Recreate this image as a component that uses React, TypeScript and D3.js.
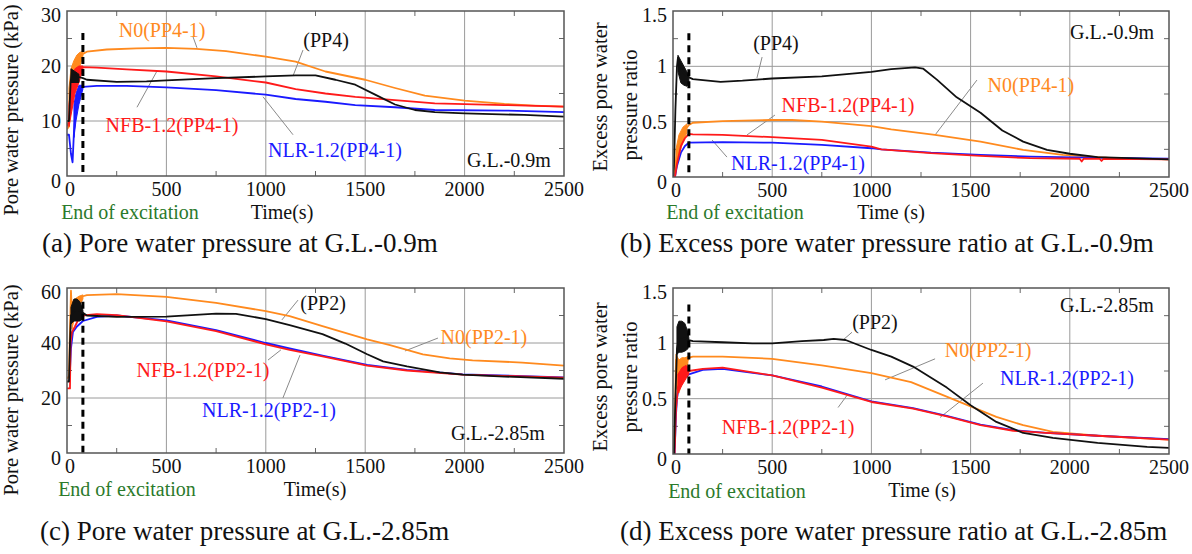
import React from 'react';
import * as d3 from 'd3';

type Pt = [number, number];
type Band = [number, number, number];

// ---------- Panel (a): pore water pressure at G.L.-0.9m ----------
const timeTicks = [0, 500, 1000, 1500, 2000, 2500];

const aN0: Pt[] = [[0,8.5],[10,9],[20,14],[40,19],[60,21.5],[80,22.2],[100,22.6],[200,23],[350,23.2],[500,23.3],[650,23.1],[800,22.7],[1000,21.7],[1150,20.8],[1300,19.0],[1500,17.5],[1650,16],[1800,14.6],[2000,13.7],[2200,13.1],[2350,12.8],[2500,12.6]];
const aN0Band: Band[] = [[10,9,16],[20,13,19.5],[35,16,21],[50,18,22],[65,20,22.5],[80,21.8,22.6]];
const aNFB: Pt[] = [[0,9],[10,10],[20,14],[40,18],[60,19.5],[80,19.8],[150,19.7],[300,19.4],[500,19],[750,18.1],[1000,17],[1150,15.8],[1300,15],[1450,14.4],[1650,13.8],[1850,13.2],[2200,12.9],[2500,12.6]];
const aNFBBand: Band[] = [[10,9,13],[25,12,18],[40,15,19.5],[60,17,20],[80,19.5,20]];
const aNLR: Pt[] = [[0,7.5],[10,7.5],[20,4],[28,2.5],[35,8],[45,13],[60,15.5],[80,16.2],[150,16.4],[300,16.4],[500,16.1],[750,15.6],[1000,14.8],[1150,14],[1300,13.5],[1450,12.9],[1650,12.5],[1850,12.0],[2200,11.9],[2500,11.6]];
const aNLRBand: Band[] = [[35,7,13],[45,10,15],[60,13,16.5],[80,15.8,16.5]];
const aPP: Pt[] = [[0,10],[10,10],[18,17],[25,19],[40,18.5],[60,18],[80,17.8],[100,17.5],[250,17.1],[400,17.2],[500,17.4],[750,17.8],[1000,18.1],[1150,18.3],[1250,18.3],[1350,17.5],[1450,16.6],[1550,14.8],[1650,13],[1750,12.0],[1850,11.6],[2000,11.4],[2300,11.1],[2500,10.8]];
const aPPBand: Band[] = [[20,17,19.5],[40,17,19],[60,17,18.5]];
const aYTicks = [0, 10, 20, 30];

// ---------- Panel (b): excess pore water pressure ratio at G.L.-0.9m ----------
const bPP: Pt[] = [[0,0],[5,0.1],[12,0.6],[20,1.0],[25,1.08],[35,1.0],[50,0.95],[65,0.92],[80,0.9],[100,0.885],[240,0.86],[350,0.87],[500,0.89],[750,0.91],[1000,0.95],[1100,0.975],[1220,0.99],[1260,0.98],[1330,0.88],[1430,0.72],[1550,0.58],[1660,0.42],[1765,0.32],[1885,0.245],[2000,0.21],[2140,0.18],[2300,0.17],[2500,0.16]];
const bPPBand: Band[] = [[25,0.95,1.1],[40,0.85,1.05],[55,0.83,1.0],[70,0.82,0.95],[80,0.85,0.92]];
const bN0: Pt[] = [[0,0],[5,0],[15,0.15],[30,0.3],[50,0.4],[80,0.47],[100,0.49],[250,0.505],[500,0.515],[600,0.515],[750,0.5],[1000,0.46],[1100,0.43],[1320,0.38],[1550,0.32],[1765,0.245],[1965,0.2],[2220,0.17],[2500,0.16]];
const bN0Band: Band[] = [[15,0.05,0.25],[30,0.2,0.38],[50,0.32,0.45],[70,0.4,0.48]];
const bNFB: Pt[] = [[0,0],[10,0],[20,0.12],[40,0.28],[60,0.35],[80,0.39],[100,0.385],[250,0.38],[500,0.36],[750,0.335],[1000,0.275],[1050,0.25],[1300,0.215],[1550,0.19],[1800,0.17],[2050,0.165],[2060,0.14],[2070,0.165],[2150,0.165],[2160,0.145],[2170,0.165],[2500,0.16]];
const bNLR: Pt[] = [[0,0],[10,0],[20,0.1],[40,0.22],[60,0.28],[80,0.31],[250,0.315],[500,0.31],[750,0.29],[1000,0.26],[1050,0.25],[1300,0.22],[1550,0.2],[1800,0.185],[2100,0.175],[2500,0.165]];
const ratioTicks = [0, 0.5, 1, 1.5];

// ---------- Panel (c): pore water pressure at G.L.-2.85m ----------
const cN0: Pt[] = [[0,27],[10,28],[15,45],[20,59],[25,50],[40,54],[60,56],[80,57],[100,57.4],[250,57.8],[500,56.8],[750,54.6],[1000,51.6],[1120,49.8],[1285,46.1],[1510,41.3],[1625,39.2],[1790,35.9],[1925,34.4],[2040,33.7],[2290,32.9],[2500,31.8]];
const cN0Band: Band[] = [[25,45,55],[40,50,56],[60,53,57],[80,56,57.5]];
const cPP: Pt[] = [[0,26],[10,26],[15,40],[20,50],[40,52],[60,52],[80,51],[100,50],[250,49.5],[500,49.6],[750,50.7],[850,50.6],[1000,48.7],[1120,46.5],[1285,43.2],[1400,39.8],[1510,35.9],[1590,33.3],[1710,31.5],[1875,29.3],[1990,28.5],[2200,27.8],[2500,27]];
const cPPBand: Band[] = [[20,47,53],[35,48,56],[50,48,56],[65,48,55],[80,49,52]];
const cNFB: Pt[] = [[0,23.5],[15,23.5],[18,40],[25,44],[40,46],[60,49],[80,50],[150,50.5],[250,50.1],[500,47.9],[750,44.3],[1000,39.5],[1120,37.5],[1285,35.1],[1510,31.8],[1710,30],[1990,28.5],[2500,27.4]];
const cNLR: Pt[] = [[15,30],[20,38],[30,44],[50,46],[80,48],[150,49.5],[250,50],[500,48.2],[750,44.7],[1000,40],[1120,38],[1285,35.4],[1510,32],[1710,30.2],[1990,28.6],[2500,27.5]];
const cYTicks = [0, 20, 40, 60];

// ---------- Panel (d): excess pore water pressure ratio at G.L.-2.85m ----------
const dPP: Pt[] = [[0,0],[5,0],[12,0.5],[20,0.95],[30,1.05],[50,1.05],[80,1.03],[100,1.02],[250,1.01],[400,1.0],[500,1.0],[650,1.02],[760,1.03],[810,1.04],[870,1.03],[1000,0.94],[1100,0.88],[1210,0.79],[1380,0.6],[1500,0.44],[1630,0.29],[1765,0.19],[1915,0.145],[2140,0.1],[2390,0.065],[2500,0.055]];
const dPPBand: Band[] = [[20,0.9,1.15],[30,0.92,1.2],[45,0.92,1.2],[60,0.93,1.18],[75,0.95,1.1],[80,1.0,1.05]];
const dN0: Pt[] = [[0,0],[5,0],[10,0.3],[15,0.85],[20,0.7],[30,0.6],[45,0.7],[60,0.8],[80,0.87],[100,0.88],[250,0.88],[500,0.86],[750,0.8],[1000,0.73],[1200,0.65],[1500,0.43],[1630,0.335],[1765,0.26],[1915,0.2],[2140,0.165],[2500,0.13]];
const dN0Band: Band[] = [[15,0.6,0.9],[30,0.55,0.85],[45,0.65,0.87],[60,0.72,0.87],[75,0.82,0.88]];
const dNFB: Pt[] = [[0,0],[8,0],[15,0.4],[25,0.6],[40,0.68],[60,0.72],[80,0.75],[150,0.77],[250,0.78],[500,0.71],[750,0.6],[1000,0.47],[1210,0.41],[1380,0.34],[1550,0.26],[1715,0.21],[1880,0.19],[2140,0.165],[2500,0.13]];
const dNFBBand: Band[] = [[25,0.55,0.72],[45,0.62,0.78],[65,0.68,0.8],[80,0.72,0.78]];
const dNLR: Pt[] = [[0,0],[8,0],[15,0.35],[20,0.5],[30,0.62],[50,0.68],[80,0.72],[150,0.76],[250,0.77],[500,0.71],[750,0.61],[1000,0.475],[1210,0.415],[1380,0.345],[1550,0.265],[1715,0.215],[1880,0.19],[2140,0.165],[2500,0.135]];

const endOfExcitation = 80;

const ORANGE = '#ff8a1e';
const RED = '#ff1a1a';
const BLUE = '#1a1aff';
const BLACK = '#111111';
const GREEN = '#2b7a2b';
const FONT = "'Liberation Serif', 'Times New Roman', Times, serif";

type Series = { data: Pt[]; color: string; band?: Band[] };
type Label = { text: string; color: string; t: number; v: number };
type Cfg = {
  x0: number; x1: number; y0: number; y1: number;
  yMax: number; yTicks: number[]; yMinor: number; yFmt: (v: number) => string;
  yLabel: string[]; yLabelX: number[]; yLabelCY: number[];
  timeText: string; timeX: number; timeY: number;
  endX: number; endY: number;
  series: Series[];
  labels: Label[];
  leaders: [number, number, number, number][];
  dashTop: number;
  caption: string; capX: number; capY: number;
};

const fmtRatio = (v: number) => String(v);

const panels: Cfg[] = [
  {
    x0: 67, x1: 564, y0: 11, y1: 176, yMax: 30, yTicks: aYTicks, yMinor: 5, yFmt: (v) => String(v),
    yLabel: ['Pore water pressure (kPa)'], yLabelX: [18], yLabelCY: [110],
    timeText: 'Time(s)', timeX: 282, timeY: 219, endX: 130, endY: 219,
    series: [
      { data: aN0, color: ORANGE, band: aN0Band },
      { data: aNLR, color: BLUE, band: aNLRBand },
      { data: aNFB, color: RED, band: aNFBBand },
      { data: aPP, color: BLACK, band: aPPBand },
    ],
    labels: [
      { text: 'N0(PP4-1)', color: ORANGE, t: 478, v: 26.5 },
      { text: '(PP4)', color: BLACK, t: 1303, v: 24.7 },
      { text: 'NFB-1.2(PP4-1)', color: RED, t: 528, v: 9.3 },
      { text: 'NLR-1.2(PP4-1)', color: BLUE, t: 1348, v: 4.7 },
      { text: 'G.L.-0.9m', color: BLACK, t: 2223, v: 2.9 },
    ],
    leaders: [[634, 25.3, 654, 23.3], [1187, 22.9, 1137, 18.2], [352, 12.5, 453, 19.1], [986, 14.4, 1137, 7.5]],
    dashTop: 26,
    caption: '(a) Pore water pressure at G.L.-0.9m', capX: 42, capY: 252,
  },
  {
    x0: 673, x1: 1169, y0: 11, y1: 177, yMax: 1.5, yTicks: ratioTicks, yMinor: 0.25, yFmt: fmtRatio,
    yLabel: ['Excess pore water', 'pressure ratio'], yLabelX: [607, 637], yLabelCY: [97, 105],
    timeText: 'Time (s)', timeX: 891, timeY: 219, endX: 735, endY: 219,
    series: [
      { data: bN0, color: ORANGE, band: bN0Band },
      { data: bNLR, color: BLUE },
      { data: bNFB, color: RED },
      { data: bPP, color: BLACK, band: bPPBand },
    ],
    labels: [
      { text: '(PP4)', color: BLACK, t: 519, v: 1.21 },
      { text: 'NFB-1.2(PP4-1)', color: RED, t: 882, v: 0.65 },
      { text: 'NLR-1.2(PP4-1)', color: BLUE, t: 630, v: 0.127 },
      { text: 'N0(PP4-1)', color: ORANGE, t: 1804, v: 0.83 },
      { text: 'G.L.-0.9m', color: BLACK, t: 2213, v: 1.31 },
    ],
    leaders: [[449, 1.084, 423, 0.895], [514, 0.56, 373, 0.38], [272, 0.18, 197, 0.334], [1532, 0.876, 1321, 0.38]],
    dashTop: 1.3,
    caption: '(b) Excess pore water pressure ratio at G.L.-0.9m', capX: 620, capY: 252,
  },
  {
    x0: 67, x1: 564, y0: 288, y1: 453, yMax: 60, yTicks: cYTicks, yMinor: 10, yFmt: (v) => String(v),
    yLabel: ['Pore water pressure (kPa)'], yLabelX: [18], yLabelCY: [390],
    timeText: 'Time(s)', timeX: 315, timeY: 496, endX: 127, endY: 496,
    series: [
      { data: cN0, color: ORANGE, band: cN0Band },
      { data: cNLR, color: BLUE },
      { data: cNFB, color: RED },
      { data: cPP, color: BLACK, band: cPPBand },
    ],
    labels: [
      { text: '(PP2)', color: BLACK, t: 1288, v: 54.5 },
      { text: 'NFB-1.2(PP2-1)', color: RED, t: 684, v: 30.2 },
      { text: 'NLR-1.2(PP2-1)', color: BLUE, t: 1016, v: 15.6 },
      { text: 'N0(PP2-1)', color: ORANGE, t: 2097, v: 42.2 },
      { text: 'G.L.-2.85m', color: BLACK, t: 2168, v: 7.3 },
    ],
    leaders: [[1162, 55.6, 1081, 48.4], [1011, 33.8, 1076, 37.5], [1086, 20, 1172, 35.6], [1866, 41.8, 1700, 37.1]],
    dashTop: 55,
    caption: '(c) Pore water pressure at G.L.-2.85m', capX: 40, capY: 540,
  },
  {
    x0: 673, x1: 1169, y0: 288, y1: 454, yMax: 1.5, yTicks: ratioTicks, yMinor: 0.25, yFmt: fmtRatio,
    yLabel: ['Excess pore water', 'pressure ratio'], yLabelX: [607, 637], yLabelCY: [377, 377],
    timeText: 'Time (s)', timeX: 922, timeY: 497, endX: 737, endY: 498,
    series: [
      { data: dN0, color: ORANGE, band: dN0Band },
      { data: dNLR, color: BLUE },
      { data: dNFB, color: RED, band: dNFBBand },
      { data: dPP, color: BLACK, band: dPPBand },
    ],
    labels: [
      { text: '(PP2)', color: BLACK, t: 1018, v: 1.19 },
      { text: 'N0(PP2-1)', color: ORANGE, t: 1588, v: 0.94 },
      { text: 'NLR-1.2(PP2-1)', color: BLUE, t: 1986, v: 0.69 },
      { text: 'NFB-1.2(PP2-1)', color: RED, t: 580, v: 0.24 },
      { text: 'G.L.-2.85m', color: BLACK, t: 2187, v: 1.35 },
    ],
    leaders: [[902, 1.1, 857, 1.03], [1321, 0.86, 1069, 0.67], [1562, 0.64, 1346, 0.33], [832, 0.42, 877, 0.53]],
    dashTop: 1.35,
    caption: '(d) Excess pore water pressure ratio at G.L.-2.85m', capX: 620, capY: 540,
  },
];

function Panel({ c }: { c: Cfg }) {
  const x = d3.scaleLinear().domain([0, 2500]).range([c.x0, c.x1]);
  const y = d3.scaleLinear().domain([0, c.yMax]).range([c.y1, c.y0]);
  const line = d3.line<Pt>().x((d) => x(d[0])).y((d) => y(d[1]));
  const area = d3.area<Band>().x((d) => x(d[0])).y0((d) => y(d[1])).y1((d) => y(d[2]));
  const minorX = d3.range(250, 2500, 500);
  const minorY = d3.range(c.yMinor, c.yMax, c.yMinor).filter((v) => !c.yTicks.some((t) => Math.abs(t - v) < 1e-9));
  const clipId = `clip-${c.x0}-${c.y0}`;
  const ts = { fontFamily: FONT };
  return (
    <g style={ts}>
      <defs>
        <clipPath id={clipId}>
          <rect x={c.x0} y={c.y0} width={c.x1 - c.x0} height={c.y1 - c.y0} />
        </clipPath>
      </defs>
      {timeTicks.slice(1, -1).map((t) => (
        <line key={'gx' + t} x1={x(t)} x2={x(t)} y1={c.y0} y2={c.y1} stroke="#9a9a9a" strokeWidth={1} />
      ))}
      {c.yTicks.slice(1, -1).map((v) => (
        <line key={'gy' + v} x1={c.x0} x2={c.x1} y1={y(v)} y2={y(v)} stroke="#9a9a9a" strokeWidth={1} />
      ))}
      {minorX.map((t) => (
        <g key={'mx' + t}>
          <line x1={x(t)} x2={x(t)} y1={c.y0} y2={c.y0 + 5} stroke="#666" strokeWidth={1} />
          <line x1={x(t)} x2={x(t)} y1={c.y1} y2={c.y1 - 5} stroke="#666" strokeWidth={1} />
        </g>
      ))}
      {minorY.map((v) => (
        <g key={'my' + v}>
          <line x1={c.x1} x2={c.x1 - 5} y1={y(v)} y2={y(v)} stroke="#666" strokeWidth={1} />
          <line x1={c.x0} x2={c.x0 + 5} y1={y(v)} y2={y(v)} stroke="#666" strokeWidth={1} />
        </g>
      ))}
      {c.leaders.map((l, i) => (
        <line key={'ld' + i} x1={x(l[0])} y1={y(l[1])} x2={x(l[2])} y2={y(l[3])} stroke="#8a8a8a" strokeWidth={1} />
      ))}
      <g clipPath={`url(#${clipId})`}>
        {c.series.map((s, i) => (
          <g key={'s' + i}>
            {s.band && <path d={area(s.band) || ''} fill={s.color} stroke={s.color} strokeWidth={1} />}
            <path d={line(s.data) || ''} fill="none" stroke={s.color} strokeWidth={1.8} strokeLinejoin="round" />
          </g>
        ))}
      </g>
      <line x1={x(endOfExcitation)} x2={x(endOfExcitation)} y1={y(c.dashTop)} y2={c.y1} stroke="#000" strokeWidth={3} strokeDasharray="7,5" />
      <rect x={c.x0} y={c.y0} width={c.x1 - c.x0} height={c.y1 - c.y0} fill="none" stroke="#555" strokeWidth={1.5} />
      {timeTicks.map((t) => (
        <text key={'tx' + t} x={x(t) + (t === 0 ? 3 : 0)} y={c.y1 + 20} fontSize={20} textAnchor="middle" fill="#111" style={ts}>
          {t}
        </text>
      ))}
      {c.yTicks.map((v) => (
        <text key={'ty' + v} x={c.x0 - 6} y={y(v) + (v === c.yMax ? 4 : v === 0 ? 5 : 0)} fontSize={20} textAnchor="end" dominantBaseline="central" fill="#111" style={ts}>
          {c.yFmt(v)}
        </text>
      ))}
      {c.yLabel.map((s, i) => (
        <text key={'yl' + i} transform={`translate(${c.yLabelX[i]},${c.yLabelCY[i]}) rotate(-90)`} fontSize={20.5} textAnchor="middle" fill="#111" style={ts}>
          {s}
        </text>
      ))}
      <text x={c.timeX} y={c.timeY} fontSize={20} textAnchor="middle" fill="#111" style={ts}>{c.timeText}</text>
      <text x={c.endX} y={c.endY} fontSize={20} textAnchor="middle" fill={GREEN} style={ts}>End of excitation</text>
      {c.labels.map((l, i) => (
        <text key={'lb' + i} x={x(l.t)} y={y(l.v)} fontSize={20} textAnchor="middle" dominantBaseline="central" fill={l.color} style={ts}>
          {l.text}
        </text>
      ))}
      <text x={c.capX} y={c.capY} fontSize={27} fill="#111" style={ts}>{c.caption}</text>
    </g>
  );
}

export default function App() {
  return (
    <svg width={1192} height={554} style={{ position: 'absolute', left: 0, top: 0, background: '#fff', fontFamily: FONT }}>
      <rect width={1192} height={554} fill="#fff" />
      {panels.map((c, i) => (
        <Panel key={i} c={c} />
      ))}
    </svg>
  );
}
